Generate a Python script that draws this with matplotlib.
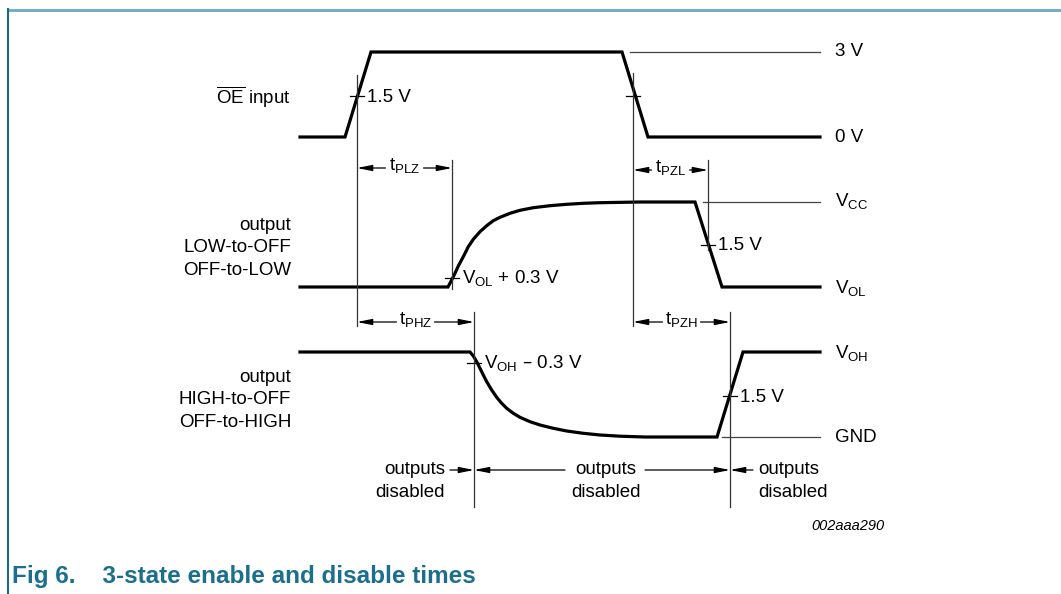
import matplotlib
matplotlib.use("Agg")
import matplotlib.pyplot as plt

plt.rcParams["font.family"] = ["Liberation Sans", "DejaVu Sans"]

# --- waveform vertices (picture pixel coords: x right, y down) ---
oe_x = [300, 345, 371, 622, 648, 820]
oe_y = [137, 137, 52, 52, 137, 137]

low_x = [300, 448, 451.7, 455, 458.3, 463.3, 468.3, 473.3, 480, 486.7, 493.3, 500, 510, 520,
         533.3, 550, 566.7, 583.3, 600, 640, 695, 722, 820]
low_y = [287, 287, 280, 273.3, 266, 256.7, 246.7, 239.3, 231.7, 225.7, 220.7, 217.3, 213.3,
         210.3, 207.7, 205.7, 204.3, 203.3, 202.7, 202, 202, 287, 287]

high_x = [300, 470, 473.3, 476.7, 480, 483.3, 486.7, 491.7, 496.7, 501.7, 506.7, 513.3, 520,
          530, 540, 553.3, 566.7, 583.3, 600, 620, 645, 717, 743, 820]
high_y = [352, 352, 356, 361.7, 368.3, 375, 381.7, 390, 397.3, 403.3, 408.3, 413.3, 417.3,
          421.7, 425, 428.3, 431, 433.3, 435, 436.2, 437, 437, 352, 352]

# reference levels: (x start, x end, y, label)
ref_lines = [(630, 820, 52, "3 V"), (None, None, 137, "0 V"),
             (703, 820, 202, "V$_{\\mathregular{CC}}$"), (None, None, 289, "V$_{\\mathregular{OL}}$"),
             (None, None, 354, "V$_{\\mathregular{OH}}$"), (722, 820, 437, "GND")]

# measurement markers: (x, y tick, label)
ticks = [(357, 96, "1.5 V"), (633, 96, None), (452, 278, "V$_{\\mathregular{OL}}$ + 0.3 V"),
         (708, 245, "1.5 V"), (474, 363, "V$_{\\mathregular{OH}}$ \u2013 0.3 V"), (730, 396, "1.5 V")]

# vertical guides: (x, y top, y bottom)
guides = [(357, 75, 326), (633, 73, 326), (452, 160, 289), (708, 160, 250),
          (474, 312, 507), (730, 312, 507)]

# timing arrows: (x1, x2, y, label)
spans = [(357, 452, 168, "t$_{\\mathregular{PLZ}}$"), (633, 708, 170, "t$_{\\mathregular{PZL}}$"),
         (357, 474, 322, "t$_{\\mathregular{PHZ}}$"), (633, 730, 322, "t$_{\\mathregular{PZH}}$")]

fig = plt.figure(figsize=(10.61, 5.94), dpi=100)
ax = fig.add_axes([0, 0, 1, 1])
ax.set_xlim(0, 1061)
ax.set_ylim(594, 0)
ax.axis("off")

fs = 13.5
blk = "black"
ls = 1.4

# frame
ax.plot([8, 1061], [9.5, 9.5], color="#6fa9c2", lw=2, solid_capstyle="butt")
ax.plot([8, 8], [9, 594], color="#1a6a88", lw=1.5)

# waveforms
for xs, ys in [(oe_x, oe_y), (low_x, low_y), (high_x, high_y)]:
    ax.plot(xs, ys, color=blk, lw=2.3, solid_joinstyle="miter")

for x0, x1, y, lab in ref_lines:
    if x0 is not None:
        ax.plot([x0, x1], [y, y], color="#444444", lw=0.9)
    ax.text(835, y, lab, fontsize=fs, va="center", ha="left")

for x, y, lab in ticks:
    ax.plot([x - 7, x + 7], [y, y], color=blk, lw=0.9)
    if lab:
        ax.text(x + 10, y + 1, lab, fontsize=fs, va="center", ha="left")

for x, y0, y1 in guides:
    ax.plot([x, x], [y0, y1], color="#333333", lw=0.9)

arrow = dict(arrowstyle="-|>,head_length=0.9,head_width=0.18", color=blk, lw=0.9,
             shrinkA=0, shrinkB=0)
for x1, x2, y, lab in spans:
    xm = (x1 + x2) / 2
    ax.annotate("", xy=(x1, y), xytext=(xm - 19, y), arrowprops=arrow)
    ax.annotate("", xy=(x2, y), xytext=(xm + 19, y), arrowprops=arrow)
    ax.text(xm, y - 2, lab, fontsize=fs, va="center", ha="center",
            bbox=dict(fc="white", ec="none", pad=1))

# left labels
ax.text(291, 97, "$\\overline{\\mathregular{OE}}$ input", fontsize=fs, ha="right", va="center")
ax.text(291, 248, "output\nLOW-to-OFF\nOFF-to-LOW", fontsize=fs, ha="right", va="center",
        linespacing=ls)
ax.text(291, 400, "output\nHIGH-to-OFF\nOFF-to-HIGH", fontsize=fs, ha="right", va="center",
        linespacing=ls)

# outputs disabled
ax.annotate("", xy=(474, 470), xytext=(450, 470), arrowprops=arrow)
ax.text(445, 481, "outputs\ndisabled", fontsize=fs, ha="right", va="center", linespacing=ls)
ax.annotate("", xy=(474, 470), xytext=(565, 470), arrowprops=arrow)
ax.annotate("", xy=(730, 470), xytext=(645, 470), arrowprops=arrow)
ax.text(606, 481, "outputs\ndisabled", fontsize=fs, ha="center", va="center", linespacing=ls)
ax.annotate("", xy=(730, 470), xytext=(753, 470), arrowprops=arrow)
ax.text(758, 481, "outputs\ndisabled", fontsize=fs, ha="left", va="center", linespacing=ls)

ax.text(848, 526, "002aaa290", fontsize=10.5, style="italic", ha="center", va="center")

ax.text(12, 577, "Fig 6.    3-state enable and disable times", fontsize=17.5, weight="bold",
        color="#1a6f8c", ha="left", va="center")

fig.savefig("out.png", dpi=100)
